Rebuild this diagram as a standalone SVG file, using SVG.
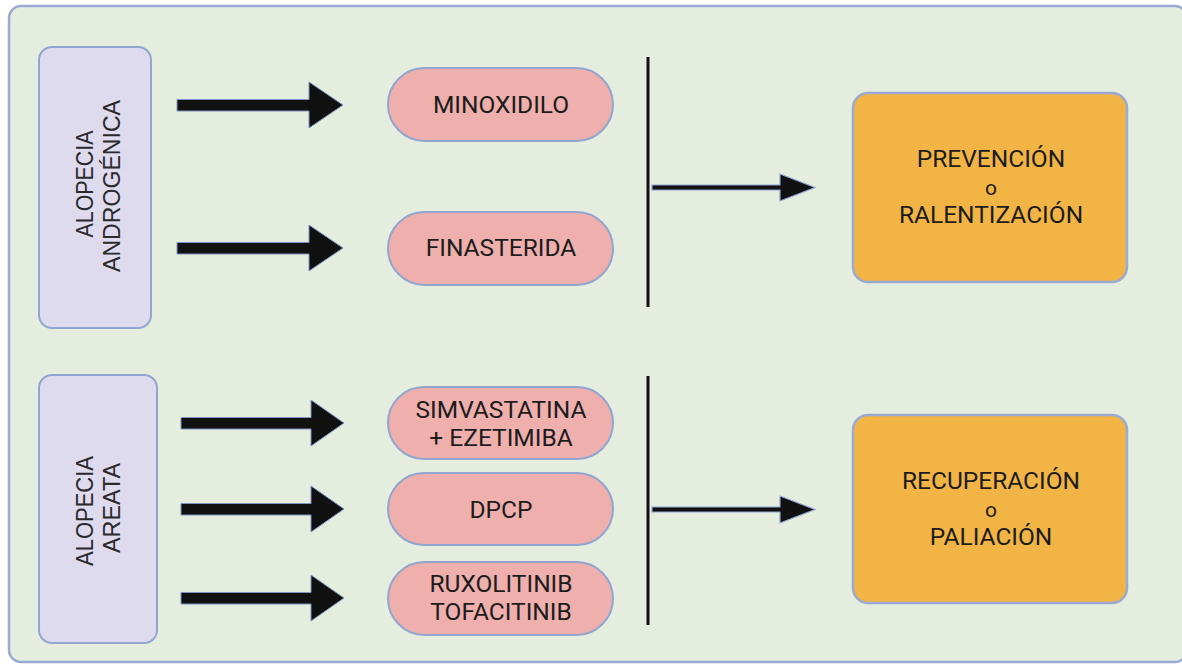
<svg xmlns="http://www.w3.org/2000/svg" width="1182" height="665" viewBox="0 0 1182 665">
<defs>
<style>
.frame{fill:#e5eddf;stroke:#9aaad2;stroke-width:2.5}
.cat{fill:#dfdbef;stroke:#90a6d0;stroke-width:2}
.pill{fill:#efafad;stroke:#90a6d0;stroke-width:2}
.res{fill:#f2b545;stroke:#9aaad2;stroke-width:2.5}
text{font-family:Roboto,"Liberation Sans",sans-serif;font-size:24.5px;fill:#1c1c1c;text-anchor:middle}
.rot{font-family:"Liberation Sans",Arial,sans-serif;font-size:24px;fill:#2a2a2a}
.small{font-size:21px}
.bar{stroke:#111;stroke-width:3}
.thick{fill:#111;stroke:#7f93c4;stroke-width:1}
.thin{fill:#111;stroke:#8ea3d6;stroke-width:1.2}
</style>
</defs>
<rect class="frame" x="9" y="6" width="1178" height="656" rx="12"/>
<g id="alopecia-androgenica">
<rect class="cat" x="39" y="47" width="112" height="281" rx="13"/>
<text class="rot" transform="translate(93 184) rotate(-90)" textLength="107" lengthAdjust="spacingAndGlyphs">ALOPECIA</text>
<text class="rot" transform="translate(120 186) rotate(-90)" textLength="172" lengthAdjust="spacingAndGlyphs">ANDROGÉNICA</text>
</g>
<g id="alopecia-areata">
<rect class="cat" x="39" y="375" width="118" height="268" rx="13"/>
<text class="rot" transform="translate(93 511) rotate(-90)" textLength="110" lengthAdjust="spacingAndGlyphs">ALOPECIA</text>
<text class="rot" transform="translate(120 508) rotate(-90)" textLength="90" lengthAdjust="spacingAndGlyphs">AREATA</text>
</g>
<g id="minoxidilo">
<rect class="pill" x="388" y="68" width="225" height="73" rx="36.5"/>
<text x="501" y="113">MINOXIDILO</text>
</g>
<g id="finasterida">
<rect class="pill" x="388" y="212" width="225" height="73" rx="36.5"/>
<text x="501" y="256">FINASTERIDA</text>
</g>
<g id="simvastatina">
<rect class="pill" x="388" y="387" width="225" height="72" rx="36"/>
<text x="501" y="418">SIMVASTATINA</text>
<text x="501" y="446">+ EZETIMIBA</text>
</g>
<g id="dpcp">
<rect class="pill" x="388" y="473" width="225" height="72" rx="36"/>
<text x="501" y="518">DPCP</text>
</g>
<g id="ruxolitinib">
<rect class="pill" x="388" y="562" width="225" height="73" rx="36.5"/>
<text x="501" y="592">RUXOLITINIB</text>
<text x="501" y="620">TOFACITINIB</text>
</g>
<g id="prevencion">
<rect class="res" x="853" y="93" width="274" height="189" rx="15"/>
<text x="991" y="167">PREVENCIÓN</text>
<text class="small" x="991" y="195">o</text>
<text x="991" y="223">RALENTIZACIÓN</text>
</g>
<g id="recuperacion">
<rect class="res" x="853" y="415" width="274" height="188" rx="15"/>
<text x="991" y="489">RECUPERACIÓN</text>
<text class="small" x="991" y="517">o</text>
<text x="991" y="545">PALIACIÓN</text>
</g>
<g id="connectors">
<path class="thick" d="M177 99.5H309V82L343 105 309 128V111H177Z"/>
<path class="thick" d="M177 242.5H309V225L343 248 309 271V254H177Z"/>
<path class="thick" d="M181 417.5H311V400L344 423 311 446V429H181Z"/>
<path class="thick" d="M181 503.5H311V486L344 509 311 532V515H181Z"/>
<path class="thick" d="M181 592.5H311V575L344 598 311 621V604H181Z"/>
<line class="bar" x1="648" y1="57" x2="648" y2="307"/>
<line class="bar" x1="648" y1="376" x2="648" y2="625"/>
<path class="thin" d="M652 185H780V174L815 187.5 780 201V190H652Z"/>
<path class="thin" d="M652 507H780V496L815 509.5 780 523V512H652Z"/>
</g>
</svg>
